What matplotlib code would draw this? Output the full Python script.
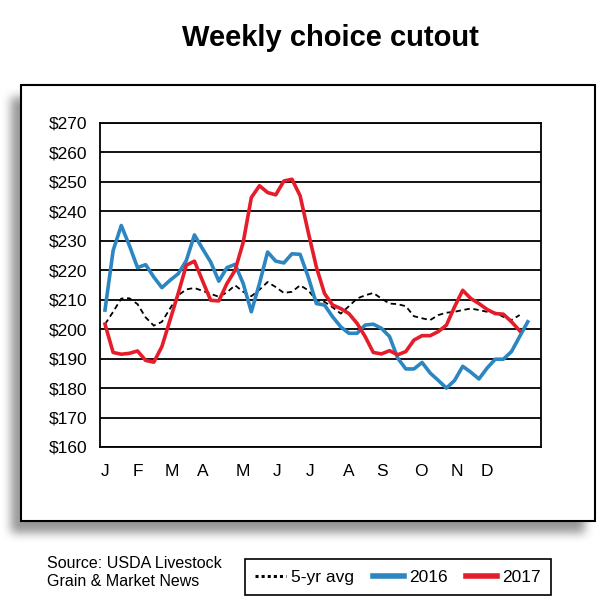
import numpy as np
import matplotlib
matplotlib.use("Agg")
import matplotlib.pyplot as plt
from matplotlib.patches import Rectangle
from matplotlib.lines import Line2D

# ---- data (weekly, $/cwt) ----
avg5 = [201.7, 205.9, 210.4, 210.5, 208.5, 204.0, 201.2, 202.5, 207.0, 211.5,
        213.5, 214.0, 213.0, 212.0, 211.0, 212.5, 214.9, 212.7, 211.2, 213.4,
        216.0, 214.3, 212.3, 212.7, 214.9, 213.2, 209.8, 209.3, 207.4, 205.3,
        207.8, 210.4, 211.5, 212.3, 210.4, 208.7, 208.5, 207.8, 204.4, 203.7,
        203.1, 204.8, 205.6, 205.9, 206.5, 207.0, 206.5, 205.9, 205.6, 204.2,
        203.1, 204.8]
y2016 = [206.5, 226.7, 235.2, 228.4, 220.9, 221.9, 217.7, 214.1, 216.6, 218.8,
         223.3, 232.0, 227.3, 222.8, 216.3, 220.9, 222.0, 215.5, 205.9, 215.5,
         226.2, 223.1, 222.5, 225.6, 225.4, 217.7, 208.7, 208.2, 204.2, 200.8,
         198.6, 198.6, 201.4, 201.7, 200.3, 197.5, 190.2, 186.5, 186.5, 188.7,
         185.1, 182.6, 180.0, 182.6, 187.4, 185.4, 183.1, 186.8, 189.8, 189.8,
         192.4, 197.5, 202.5]
y2017 = [201.7, 192.1, 191.5, 191.8, 192.6, 189.4, 188.8, 194.1, 203.1, 212.1,
         221.7, 223.1, 216.4, 209.8, 209.6, 215.5, 220.0, 229.5, 244.7, 248.7,
         246.4, 245.6, 250.3, 250.9, 245.3, 232.9, 221.1, 212.1, 208.2, 207.0,
         205.3, 202.0, 197.5, 192.1, 191.6, 192.7, 191.3, 192.4, 196.3, 197.8,
         197.8, 199.2, 201.4, 207.6, 213.2, 210.4, 208.7, 206.7, 205.3, 205.1,
         202.5, 199.5]

month_labels = ["J", "F", "M", "A", "M", "J", "J", "A", "S", "O", "N", "D"]
month_pos = [0.0, 4.06, 8.24, 12.05, 16.97, 21.16, 25.22, 30.0, 34.07, 38.87, 43.3, 46.99]
y_ticks = list(range(160, 271, 10))

BLUE = "#2b86c2"
RED = "#e51d2a"
W, H = 610, 607

plt.rcParams['font.family'] = ['Liberation Sans', 'DejaVu Sans']

fig = plt.figure(figsize=(W / 100, H / 100), dpi=100)

# background: shadowed white panel, drawn in pixel coordinates
bg = fig.add_axes([0, 0, 1, 1])
bg.set_xlim(0, W)
bg.set_ylim(H, 0)
bg.axis("off")

box_l, box_t, box_r, box_b = 21, 85, 595, 521
mask = np.zeros((H, W))
mask[box_t + 12:box_b + 12, box_l - 10:box_r - 10] = 1.0
k = np.ones(11) / 11
for _ in range(2):
    mask = np.apply_along_axis(lambda m: np.convolve(m, k, mode="same"), 0, mask)
    mask = np.apply_along_axis(lambda m: np.convolve(m, k, mode="same"), 1, mask)
shadow = np.zeros((H, W, 4))
shadow[..., :3] = 0.42
shadow[..., 3] = mask * 0.7
bg.imshow(shadow, extent=(0, W, H, 0), interpolation="bilinear", zorder=0)
bg.add_patch(Rectangle((box_l, box_t), box_r - box_l, box_b - box_t,
                       facecolor="white", edgecolor="black", linewidth=1.5, zorder=1))

fig.text(330 / W, 1 - 38 / H, "Weekly choice cutout", ha="center", va="center",
         fontsize=21, fontweight="bold")

# main axes
ax = fig.add_axes([100 / W, 1 - 447 / H, 441 / W, 324 / H])
ax.set_facecolor("white")
ax.plot(np.arange(len(avg5)), avg5, color="black", lw=1.3, ls=(0, (3, 2)), zorder=3)
ax.plot(np.arange(len(y2016)), y2016, color=BLUE, lw=2.6, zorder=4)
ax.plot(np.arange(len(y2017)), y2017, color=RED, lw=2.6, zorder=5)

ax.set_xlim(-0.615, 53.63)
ax.set_ylim(160, 270)
ax.set_yticks(y_ticks)
ax.set_yticklabels([f"${v}" for v in y_ticks], fontsize=12.5)
ax.set_xticks(month_pos)
ax.set_xticklabels(month_labels, fontsize=12.5)
ax.tick_params(axis="y", length=0, pad=9)
ax.tick_params(axis="x", length=0, pad=12)
ax.grid(axis="y", color="black", lw=1.3)
ax.set_axisbelow(True)
for s in ax.spines.values():
    s.set_linewidth(1.3)

fig.text(47 / W, 1 - 563 / H, "Source: USDA Livestock", ha="left", va="center",
         fontsize=11.5)
fig.text(47 / W, 1 - 582 / H, "Grain & Market News", ha="left", va="center",
         fontsize=11.5)

handles = [Line2D([], [], color="black", lw=2.2, ls=(0, (1, 1))),
           Line2D([], [], color=BLUE, lw=4),
           Line2D([], [], color=RED, lw=4)]
leg = fig.legend(handles, ["5-yr avg", "2016", "2017"], loc="center",
                 bbox_to_anchor=(398 / W, 1 - 577 / H), ncol=3, frameon=True,
                 fancybox=False, edgecolor="black", framealpha=1,
                 handlelength=1.8, handletextpad=0.3, columnspacing=1.05,
                 borderpad=0.6, prop={"size": 12.5})
leg.get_frame().set_linewidth(1.2)

fig.savefig("out.png", dpi=100)
